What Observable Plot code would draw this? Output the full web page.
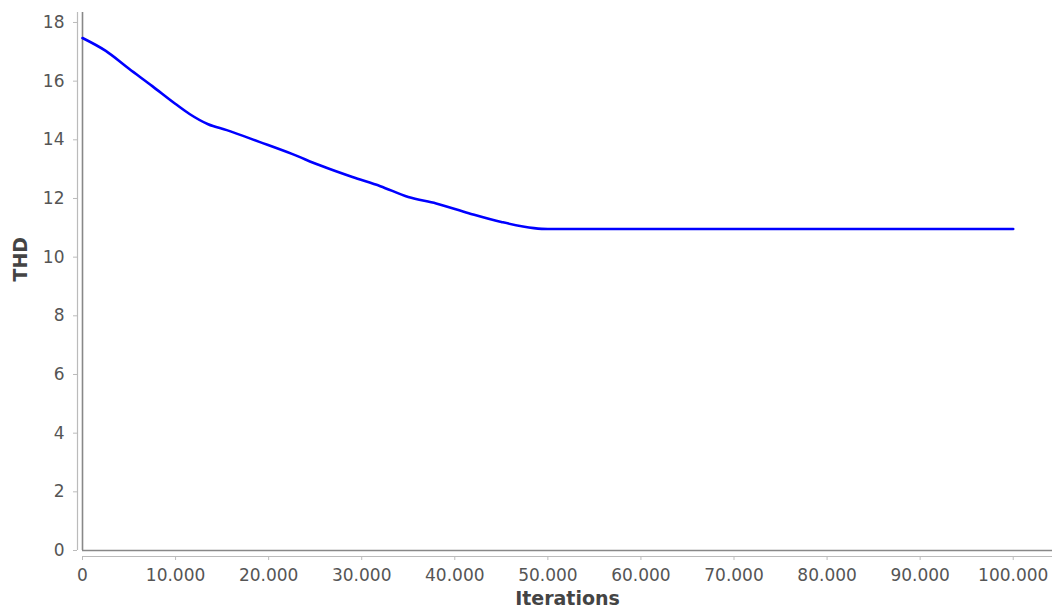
<!DOCTYPE html>
<html>
<head>
<meta charset="utf-8">
<script src="https://cdn.jsdelivr.net/npm/d3@7"></script>
<script src="https://cdn.jsdelivr.net/npm/@observablehq/plot@0.6"></script>
<style>
  html, body { margin: 0; padding: 0; background: #fff; }
</style>
</head>
<body>
<div id="chart"></div>
<script>
const iterations = [0, 2500, 5000, 7500, 10000, 11500, 13500, 15500, 19000, 22500, 25500, 29000, 32000, 35000, 38000, 41500, 45000, 48500, 50000, 60000, 70000, 80000, 90000, 100000];
const thd = [17.47, 17.03, 16.42, 15.83, 15.22, 14.88, 14.53, 14.33, 13.93, 13.52, 13.13, 12.73, 12.42, 12.05, 11.83, 11.50, 11.20, 10.99, 10.96, 10.96, 10.96, 10.96, 10.96, 10.96];
const xTicks = [0, 10000, 20000, 30000, 40000, 50000, 60000, 70000, 80000, 90000, 100000];
const yTicks = [0, 2, 4, 6, 8, 10, 12, 14, 16, 18];
const xLabel = "Iterations";
const yLabel = "THD";

const data = iterations.map((d, i) => ({iter: d, thd: thd[i]}));
const fmt = d => d3.format(",")(d).replace(/,/g, ".");

const chart = Plot.plot({
  width: 1052,
  height: 616,
  marginLeft: 82,
  marginRight: 0,
  marginTop: 12,
  marginBottom: 66,
  style: {fontFamily: "DejaVu Sans", fontSize: "17px", color: "#444", background: "#fff"},
  x: {domain: [0, 104220], axis: null},
  y: {domain: [0, 18.34], axis: null},
  marks: [
    // axis lines (offset from plot)
    Plot.ruleX([0], {dx: -5, stroke: "#bbb", strokeWidth: 1.2}),
    Plot.ruleY([0], {dy: 6, stroke: "#bbb", strokeWidth: 1.2}),
    // plot border
    Plot.ruleX([0], {stroke: "#888", strokeWidth: 1.6}),
    Plot.ruleY([0], {stroke: "#888", strokeWidth: 1.6}),
    // axes
    Plot.axisY({ticks: yTicks, tickSize: 4, tickPadding: 9, dx: -5, stroke: "#bbb", fill: "#555", tickFormat: d => String(d), label: null}),
    Plot.axisX({ticks: xTicks, tickSize: 4, tickPadding: 8, dy: 6, stroke: "#bbb", fill: "#555", tickFormat: fmt, label: null}),
    Plot.text([yLabel], {frameAnchor: "left", dx: -62, rotate: -90, fontWeight: "bold", fontSize: 19, fill: "#444"}),
    Plot.text([xLabel], {frameAnchor: "bottom", dy: 54, fontWeight: "bold", fontSize: 19, fill: "#444"}),
    Plot.line(data, {x: "iter", y: "thd", stroke: "#0000ff", strokeWidth: 2.6, curve: "monotone-x"})
  ]
});
document.getElementById("chart").appendChild(chart);
</script>
</body>
</html>
